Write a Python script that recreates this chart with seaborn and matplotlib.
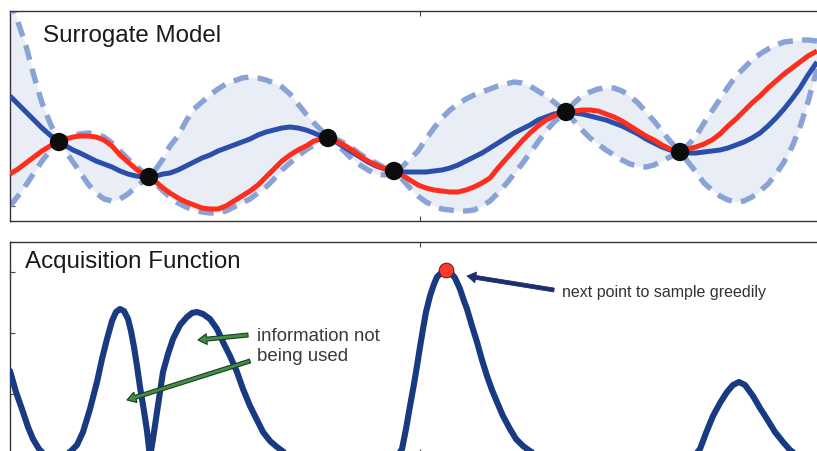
import numpy as np
import pandas as pd
import matplotlib
matplotlib.use("Agg")
import matplotlib.pyplot as plt
import seaborn as sns

# ---------------- data (arbitrary units) ----------------
grid_x = [0.00, 0.08, 0.16, 0.24, 0.32, 0.40, 0.49,
          0.56, 0.63, 0.70, 0.78, 0.86, 0.94, 1.02, 1.10, 1.18, 1.26, 1.33, 1.39,
          1.46, 1.53, 1.60, 1.68, 1.76, 1.84, 1.92, 2.00, 2.08, 2.16, 2.24, 2.32,
          2.40, 2.48, 2.56, 2.64, 2.72, 2.80, 2.88, 2.96, 3.04, 3.11, 3.18,
          3.26, 3.34, 3.42, 3.50, 3.58, 3.66, 3.75, 3.84,
          3.92, 4.00, 4.08, 4.16, 4.24, 4.32, 4.40, 4.48, 4.56, 4.64, 4.72,
          4.80, 4.88, 4.96, 5.04, 5.12, 5.20, 5.28, 5.36, 5.44, 5.50, 5.56,
          5.64, 5.72, 5.80, 5.88, 5.96, 6.04, 6.12, 6.20, 6.28, 6.36, 6.44,
          6.52, 6.60, 6.70,
          6.78, 6.86, 6.94, 7.02, 7.10, 7.18, 7.26, 7.34, 7.42, 7.50, 7.58,
          7.66, 7.74, 7.82, 7.90, 7.98, 8.07]

surrogate_mean = [12.5, 11.7, 10.9, 10.1, 9.3, 8.6, 7.9,
                  7.5, 7.1, 6.8, 6.4, 6.0, 5.7, 5.4, 5.0, 4.7, 4.5, 4.4, 4.4,
                  4.5, 4.7, 4.8, 5.1, 5.5, 5.9, 6.3, 6.6, 7.0, 7.3, 7.6, 7.9,
                  8.2, 8.6, 8.9, 9.1, 9.3, 9.4, 9.3, 9.1, 8.8, 8.5, 8.3,
                  7.9, 7.4, 6.9, 6.4, 5.9, 5.5, 5.2, 5.0,
                  4.9, 4.9, 4.9, 4.9, 5.0, 5.1, 5.3, 5.6, 6.0, 6.4, 6.8,
                  7.3, 7.8, 8.3, 8.8, 9.2, 9.6, 10.1, 10.4, 10.7, 10.8, 10.9,
                  10.8, 10.7, 10.5, 10.3, 10.1, 9.8, 9.5, 9.1, 8.7, 8.2, 7.8,
                  7.4, 7.1, 6.9,
                  6.8, 6.8, 6.9, 7.0, 7.1, 7.3, 7.6, 7.9, 8.3, 8.8, 9.5,
                  10.3, 11.2, 12.2, 13.3, 14.6, 15.9]

true_function = [4.7, 5.2, 5.8, 6.4, 7.0, 7.5, 7.9,
                 8.2, 8.4, 8.5, 8.5, 8.4, 8.1, 7.5, 6.6, 5.9, 5.2, 4.7, 4.4,
                 3.9, 3.3, 2.8, 2.3, 1.9, 1.6, 1.3, 1.2, 1.2, 1.5, 2.0, 2.5,
                 3.0, 3.6, 4.4, 5.2, 6.0, 6.6, 7.1, 7.5, 8.0, 8.2, 8.3,
                 8.0, 7.6, 7.1, 6.5, 6.0, 5.6, 5.2, 5.0,
                 4.6, 4.1, 3.6, 3.3, 3.1, 3.0, 2.9, 2.9, 3.1, 3.4, 3.8,
                 4.3, 5.3, 6.2, 7.1, 8.0, 8.8, 9.5, 10.1, 10.5, 10.7, 10.9,
                 11.0, 11.1, 11.1, 11.0, 10.7, 10.4, 10.0, 9.5, 9.0, 8.5, 8.1,
                 7.6, 7.2, 6.9,
                 7.2, 7.4, 7.7, 8.1, 8.7, 9.5, 10.2, 11.0, 11.8, 12.5, 13.3,
                 14.0, 14.7, 15.3, 15.9, 16.5, 17.0]

upper_bound = [22.2, 19.9, 17.5, 14.5, 11.8, 9.8, 7.9,
               8.3, 8.6, 8.7, 8.8, 8.7, 8.4, 7.8, 7.0, 6.2, 5.5, 4.9, 4.4,
               5.2, 6.2, 7.5, 8.5, 10.0, 11.2, 11.9, 12.6, 13.2, 13.7, 14.0, 14.3,
               14.4, 14.3, 14.1, 13.8, 13.4, 12.7, 11.7, 10.7, 9.8, 9.1, 8.3,
               8.2, 7.8, 7.3, 6.7, 6.2, 5.8, 5.3, 5.0,
               5.4, 6.2, 7.0, 8.2, 9.3, 10.3, 11.1, 11.7, 12.2, 12.6, 12.9,
               13.2, 13.5, 13.7, 13.9, 13.8, 13.5, 13.0, 12.5, 11.9, 11.4, 10.9,
               11.8, 12.5, 12.9, 13.2, 13.3, 13.3, 13.0, 12.5, 11.8, 10.9, 10.0,
               9.0, 8.0, 6.9,
               7.6, 8.5, 9.8, 11.0, 12.2, 13.4, 14.5, 15.3, 16.1, 16.7, 17.2,
               17.6, 17.9, 18.0, 18.1, 18.1, 18.0]

lower_bound = [1.5, 2.5, 3.6, 4.8, 6.0, 7.0, 7.9,
               6.9, 5.9, 4.9, 3.7, 2.8, 2.2, 2.0, 2.2, 2.7, 3.4, 4.0, 4.4,
               3.7, 3.0, 2.4, 1.8, 1.4, 1.1, 0.9, 0.8, 0.8, 1.0, 1.4, 1.8,
               2.2, 2.8, 3.4, 4.2, 5.1, 5.8, 6.5, 7.1, 7.6, 8.0, 8.3,
               7.7, 7.0, 6.2, 5.6, 5.1, 4.7, 4.6, 5.0,
               4.2, 3.3, 2.5, 1.9, 1.5, 1.2, 1.1, 1.0, 1.0, 1.1, 1.5,
               2.0, 2.8, 3.7, 4.7, 5.7, 6.8, 7.9, 9.0, 9.9, 10.4, 10.9,
               10.0, 9.1, 8.3, 7.7, 7.1, 6.6, 6.1, 5.7, 5.5, 5.4, 5.6,
               6.0, 6.4, 6.9,
               5.9, 4.9, 3.8, 3.1, 2.5, 2.1, 1.9, 2.0, 2.4, 3.0, 3.7,
               4.7, 5.9, 7.4, 9.4, 11.9, 15.2]

sample_x = [0.49, 1.39, 3.18, 3.84, 5.56, 6.70]
sample_y = [7.9, 4.4, 8.3, 5.0, 10.9, 6.9]

acq_x = [0.00, 0.06, 0.13, 0.18, 0.23, 0.29, 0.35, 0.45, 0.55, 0.61,
         0.67, 0.73, 0.80, 0.87, 0.92, 0.97, 1.02, 1.06, 1.10, 1.14,
         1.18, 1.21, 1.24, 1.27, 1.30, 1.34, 1.37, 1.40, 1.43, 1.47,
         1.50, 1.53, 1.58, 1.63, 1.70, 1.77, 1.82, 1.87, 1.93, 2.00,
         2.07, 2.13, 2.20, 2.27, 2.33, 2.40, 2.47, 2.53, 2.60, 2.67,
         2.75, 2.85, 3.20, 3.84, 3.88, 3.92, 3.96, 4.00, 4.04, 4.07,
         4.10, 4.13, 4.16, 4.20, 4.24, 4.27, 4.31, 4.36, 4.41, 4.45,
         4.50, 4.54, 4.57, 4.62, 4.67, 4.72, 4.77, 4.82, 4.87, 4.93,
         5.00, 5.06, 5.13, 5.20, 5.27, 5.40, 5.56, 5.90, 6.10, 6.25,
         6.40, 6.70, 6.80, 6.85, 6.90, 6.96, 7.03, 7.10, 7.17, 7.23,
         7.29, 7.35, 7.43, 7.50, 7.57, 7.65, 7.73, 7.80, 7.87, 7.97,
         8.07]
acq_y = [8.6, 6.5, 4.5, 3.0, 1.8, 0.8, 0.2, 0.0, 0.2, 0.6,
         1.2, 2.5, 4.8, 7.5, 9.8, 11.8, 13.6, 14.5, 14.8, 14.6,
         13.8, 12.6, 11.0, 9.1, 7.0, 4.6, 2.6, 0.0, 1.8, 4.5,
         6.5, 8.5, 10.3, 11.8, 13.2, 14.0, 14.4, 14.5, 14.3, 13.8,
         12.8, 11.5, 10.1, 8.5, 6.8, 5.1, 3.7, 2.5, 1.6, 1.0,
         0.4, 0.0, 0.0, 0.0, 0.2, 0.8, 2.8, 5.1, 7.3, 9.1,
         11.0, 12.8, 14.5, 16.1, 17.3, 18.0, 18.4, 18.6, 18.4, 17.9,
         16.8, 15.6, 14.8, 13.1, 11.5, 9.7, 8.1, 6.7, 5.5, 4.1,
         2.8, 1.8, 1.1, 0.6, 0.2, 0.0, 0.0, 0.0, 0.2, 0.4,
         0.2, 0.0, 0.1, 0.2, 0.8, 2.4, 4.1, 5.4, 6.5, 7.2,
         7.5, 7.2, 6.1, 4.9, 3.8, 2.5, 1.5, 0.7, 0.2, 0.0,
         0.0]

top_title = "Surrogate Model"
bottom_title = "Acquisition Function"
note_unused = "information not\nbeing used"
note_next = "next point to sample greedily"

# ---------------- styling ----------------
sns.set_theme(style="white")
plt.rcParams['font.family'] = ['Liberation Sans', 'DejaVu Sans']

C_MEAN = "#2a4ea9"
C_TRUE = "#ff2d1c"
C_BAND = "#8aa3d6"
C_FILL = "#e8edf6"
C_ACQ = "#173a80"
C_SPINE = "#333333"

W, H = 817, 452
fig = plt.figure(figsize=(W / 100, H / 100), dpi=100)
fig.patch.set_facecolor("white")


def px_axes(left, top, right, bottom):
    return fig.add_axes([left / W, (H - bottom) / H, (right - left) / W, (bottom - top) / H])


ax1 = px_axes(10, 12, 830, 222)
ax2 = px_axes(10, 243, 830, 455)

for ax in (ax1, ax2):
    ax.set_facecolor("white")
    for s in ax.spines.values():
        s.set_color(C_SPINE)
        s.set_linewidth(1.0)
    ax.tick_params(direction="in", length=3.8, width=0.8, colors="#444444",
                   bottom=True, top=True, left=True, right=False,
                   labelbottom=False, labelleft=False)

# ---------------- top panel ----------------
top = pd.DataFrame({"x": grid_x, "mean": surrogate_mean, "true": true_function,
                    "upper": upper_bound, "lower": lower_bound})

ax1.fill_between(top["x"], top["lower"], top["upper"], color=C_FILL, lw=0, zorder=1)
for col in ("upper", "lower"):
    sns.lineplot(data=top, x="x", y=col, ax=ax1, color=C_BAND, linewidth=3.9,
                 sort=False, estimator=None, errorbar=None, legend=False, zorder=2)
    ln = ax1.lines[-1]
    ln.set_dashes([2.8, 1.7])
    ln.set_dash_capstyle("butt")
    ln.set_dash_joinstyle("round")

sns.lineplot(data=top, x="x", y="mean", ax=ax1, color=C_MEAN, linewidth=3.6,
             sort=False, estimator=None, errorbar=None, legend=False, zorder=3)
sns.lineplot(data=top, x="x", y="true", ax=ax1, color=C_TRUE, linewidth=3.6,
             sort=False, estimator=None, errorbar=None, legend=False, zorder=4)
for ln in ax1.lines[2:]:
    ln.set_solid_joinstyle("round")
    ln.set_solid_capstyle("butt")

sns.scatterplot(x=sample_x, y=sample_y, ax=ax1, s=175, color="#0c0c0c",
                edgecolor="none", zorder=6, legend=False)

ax1.text(0.33, 18.0, top_title, fontsize=17.4, color="#1a1a1a",
         ha="left", va="baseline", zorder=7)

# ---------------- bottom panel ----------------
acq = pd.DataFrame({"x": acq_x, "a": acq_y})
sns.lineplot(data=acq, x="x", y="a", ax=ax2, color=C_ACQ, linewidth=4.4,
             sort=False, estimator=None, errorbar=None, legend=False, zorder=3)
ax2.lines[-1].set_solid_joinstyle("round")

imax = int(np.argmax(acq_y))
sns.scatterplot(x=[acq_x[imax]], y=[acq_y[imax] + 0.1], ax=ax2, s=110,
                color="#ff3b2b", edgecolor="#7a1c12", linewidth=0.8,
                zorder=6, legend=False)

ax2.text(0.15, 19.0, bottom_title, fontsize=17.4, color="#1a1a1a",
         ha="left", va="baseline", zorder=7)

green = dict(arrowstyle="simple,head_length=0.45,head_width=0.55,tail_width=0.2",
             fc="#3f8f48", ec="#1e3b20", lw=0.8, shrinkA=0, shrinkB=0,
             mutation_scale=14)
ax2.annotate("", xy=(1.88, 11.7), xytext=(2.38, 12.2), arrowprops=green, zorder=8)
ax2.annotate("", xy=(1.17, 5.7), xytext=(2.40, 9.6), arrowprops=green, zorder=8)

navy = dict(arrowstyle="simple,head_length=0.45,head_width=0.55,tail_width=0.2",
            fc="#1b2f6e", ec="#1b2f6e", lw=0.6, shrinkA=0, shrinkB=0,
            mutation_scale=14)
ax2.annotate("", xy=(4.57, 18.1), xytext=(5.44, 16.7), arrowprops=navy, zorder=8)

ax2.text(2.47, 13.0, note_unused, fontsize=13.4, color="#3a3a3a",
         ha="left", va="top", linespacing=1.2, zorder=7)
ax2.text(5.52, 16.1, note_next, fontsize=11.5, color="#333333",
         ha="left", va="baseline", zorder=7)

# ---------------- axes limits & ticks ----------------
for ax in (ax1, ax2):
    ax.set_xlim(0, 8.2)
    ax.set_xticks([4.1])
    ax.set_xlabel("")
    ax.set_ylabel("")
ax1.set_ylim(0, 21.0)
ax1.set_yticks([1.5, 8.0, 14.5])
ax2.set_ylim(0.3, 21.5)
ax2.set_yticks([6.3, 12.4, 18.5])

fig.savefig("out.png", dpi=100, facecolor="white")
